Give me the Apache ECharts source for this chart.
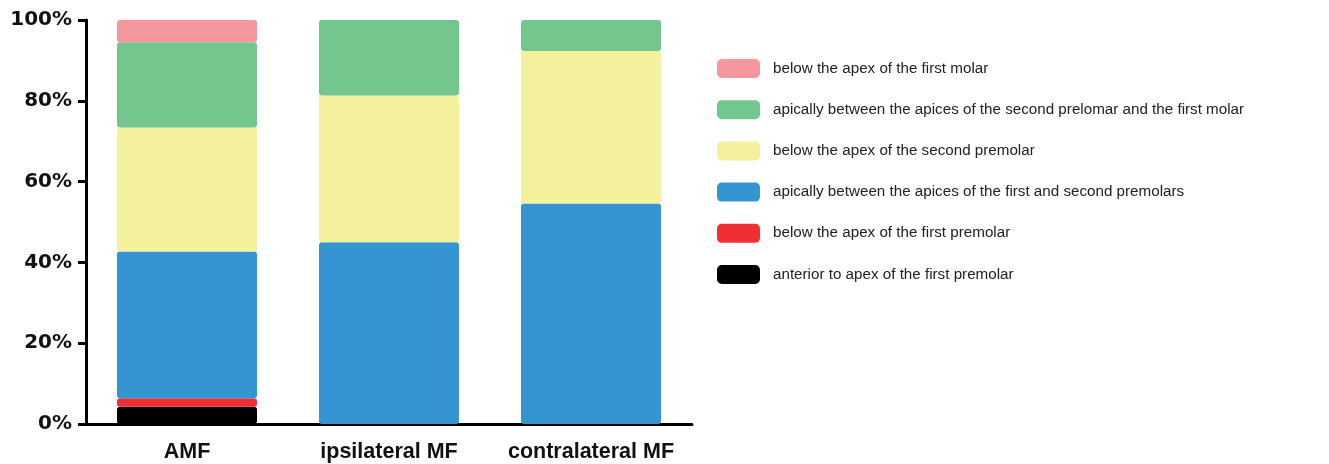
<!DOCTYPE html>
<html>
<head>
<meta charset="utf-8">
<script src="https://cdn.jsdelivr.net/npm/echarts@6/dist/echarts.min.js"></script>
<style>html,body{margin:0;padding:0;background:#fff}#c{width:1329px;height:464px}</style>
</head>
<body>
<div id="c"></div>
<script>
const categories = ['AMF', 'ipsilateral MF', 'contralateral MF'];
const yTicks = [0, 20, 40, 60, 80, 100];
const anteriorFirstPremolar = [4.3, 0, 0];
const belowFirstPremolar = [2.1, 0, 0];
const betweenFirstSecondPremolars = [36.3, 45.0, 54.6];
const belowSecondPremolar = [30.7, 36.3, 37.7];
const betweenSecondPremolarFirstMolar = [21.1, 18.7, 7.7];
const belowFirstMolar = [5.5, 0, 0];

const seriesDefs = [
  ['anterior to apex of the first premolar', anteriorFirstPremolar, '#000000'],
  ['below the apex of the first premolar', belowFirstPremolar, '#ee2f36'],
  ['apically between the apices of the first and second premolars', betweenFirstSecondPremolars, '#3595d2'],
  ['below the apex of the second premolar', belowSecondPremolar, '#f3f19b'],
  ['apically between the apices of the second prelomar and the first molar', betweenSecondPremolarFirstMolar, '#74c68f'],
  ['below the apex of the first molar', belowFirstMolar, '#f4979e']
];

const chart = echarts.init(document.getElementById('c'));
chart.setOption({
  animation: false,
  backgroundColor: '#fff',
  grid: { left: 86, right: 637, top: 20, bottom: 40 },
  legend: {
    orient: 'vertical',
    left: 712,
    top: 54,
    itemWidth: 43,
    itemHeight: 19,
    itemGap: 22.2,
    icon: 'roundRect',
    data: seriesDefs.map(s => s[0]).reverse(),
    textStyle: { fontFamily: 'Liberation Sans, Arial, sans-serif', fontSize: 15.2, color: '#222', padding: [0, 0, 0, 8] }
  },
  xAxis: {
    type: 'category',
    data: categories,
    axisLine: { lineStyle: { color: '#000', width: 3 } },
    axisTick: { alignWithLabel: true, interval: 0, length: 7, lineStyle: { color: '#000', width: 3 } },
    axisLabel: { interval: 0, hideOverlap: false, margin: 17, fontFamily: 'Liberation Sans, Arial, sans-serif', fontWeight: 'bold', fontSize: 21.5, color: '#111' }
  },
  yAxis: {
    type: 'value',
    min: 0, max: 100, interval: 20,
    axisLine: { show: true, lineStyle: { color: '#000', width: 3 } },
    axisTick: { show: true, length: 8, lineStyle: { color: '#000', width: 3 } },
    splitLine: { show: false },
    axisLabel: { margin: 14, formatter: v => yTicks.includes(v) ? v + '%' : '', fontFamily: 'DejaVu Sans, sans-serif', fontWeight: 'bold', fontSize: 20, color: '#111' }
  },
  series: seriesDefs.map(([name, data, color]) => ({
    name, type: 'bar', stack: 'total', data,
    barWidth: 140,
    itemStyle: { color, borderRadius: 3 }
  }))
});
</script>
</body>
</html>
